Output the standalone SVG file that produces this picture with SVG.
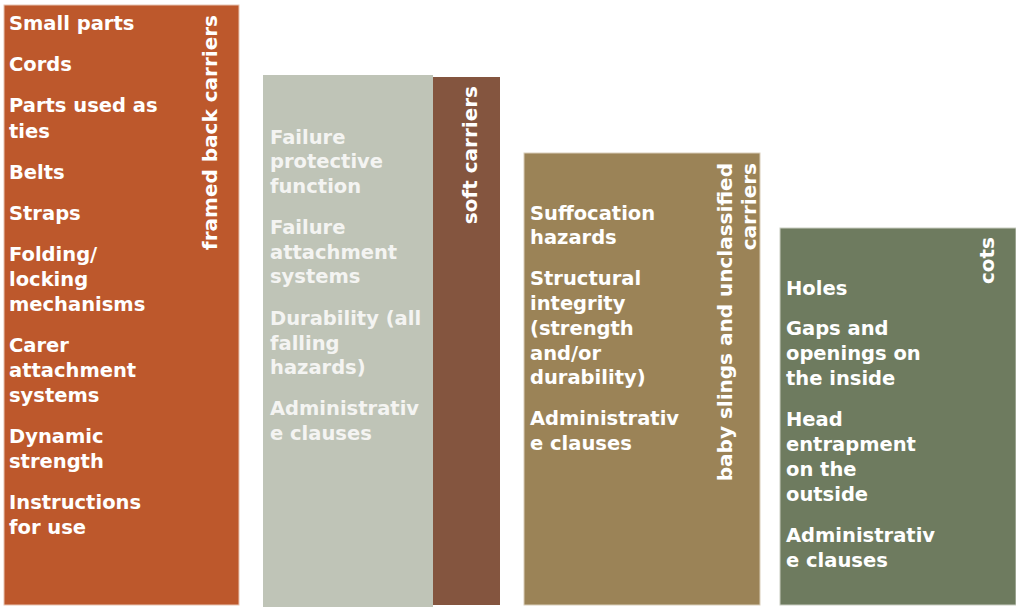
<svg xmlns="http://www.w3.org/2000/svg" width="1016" height="608" viewBox="0 0 1016 608">
<style>
.t{font-family:"DejaVu Sans","Verdana",sans-serif;font-weight:bold;font-size:19.5px;fill:#ffffff}
.lab{font-family:"DejaVu Sans","Verdana",sans-serif;font-weight:bold;font-size:20px;fill:#ffffff;text-anchor:end}
.lt{fill:#f4f4f2}
</style>
<rect width="1016" height="608" fill="#ffffff"/>
<g id="framed-back-carriers">
<rect x="4" y="5" width="235" height="600" fill="#bd582c" stroke="#e8c4b2" stroke-width="1"/>
<text class="lab" transform="translate(217,15) rotate(-90)">framed back carriers</text>
<text class="t" x="9"><tspan x="9" y="30">Small parts</tspan><tspan x="9" y="71">Cords</tspan><tspan x="9" y="112">Parts used as</tspan><tspan x="9" y="138">ties</tspan><tspan x="9" y="179">Belts</tspan><tspan x="9" y="220">Straps</tspan><tspan x="9" y="261">Folding/</tspan><tspan x="9" y="286">locking</tspan><tspan x="9" y="311">mechanisms</tspan><tspan x="9" y="352">Carer</tspan><tspan x="9" y="377">attachment</tspan><tspan x="9" y="402">systems</tspan><tspan x="9" y="443">Dynamic</tspan><tspan x="9" y="468">strength</tspan><tspan x="9" y="509">Instructions</tspan><tspan x="9" y="534">for use</tspan></text>
</g>
<g id="soft-carriers">
<rect x="263" y="75" width="170" height="532" fill="#bfc4b7"/>
<rect x="433" y="77" width="67" height="528" fill="#84553f"/>
<text class="lab" transform="translate(477,86) rotate(-90)">soft carriers</text>
<text class="t lt"><tspan x="270" y="144">Failure</tspan><tspan x="270" y="168">protective</tspan><tspan x="270" y="193">function</tspan><tspan x="270" y="234">Failure</tspan><tspan x="270" y="259">attachment</tspan><tspan x="270" y="283">systems</tspan><tspan x="270" y="325">Durability (all</tspan><tspan x="270" y="350">falling</tspan><tspan x="270" y="374">hazards)</tspan><tspan x="270" y="415">Administrativ</tspan><tspan x="270" y="440">e clauses</tspan></text>
</g>
<g id="baby-slings">
<rect x="524" y="153" width="236" height="452" fill="#9b8357" stroke="#d9ceba" stroke-width="1"/>
<text class="lab" transform="translate(732,163) rotate(-90)">baby slings and unclassified</text>
<text class="lab" transform="translate(756,163) rotate(-90)">carriers</text>
<text class="t"><tspan x="530" y="220">Suffocation</tspan><tspan x="530" y="244">hazards</tspan><tspan x="530" y="285">Structural</tspan><tspan x="530" y="310">integrity</tspan><tspan x="530" y="335">(strength</tspan><tspan x="530" y="360">and/or</tspan><tspan x="530" y="384">durability)</tspan><tspan x="530" y="425">Administrativ</tspan><tspan x="530" y="450">e clauses</tspan></text>
</g>
<g id="cots">
<rect x="780" y="228" width="236" height="377" fill="#6e7b5f" stroke="#c9cec2" stroke-width="1"/>
<text class="lab" transform="translate(994,237) rotate(-90)">cots</text>
<text class="t"><tspan x="786" y="295">Holes</tspan><tspan x="786" y="335">Gaps and</tspan><tspan x="786" y="360">openings on</tspan><tspan x="786" y="385">the inside</tspan><tspan x="786" y="426">Head</tspan><tspan x="786" y="451">entrapment</tspan><tspan x="786" y="476">on the</tspan><tspan x="786" y="501">outside</tspan><tspan x="786" y="542">Administrativ</tspan><tspan x="786" y="567">e clauses</tspan></text>
</g>
<g id="connectors"></g>
</svg>
